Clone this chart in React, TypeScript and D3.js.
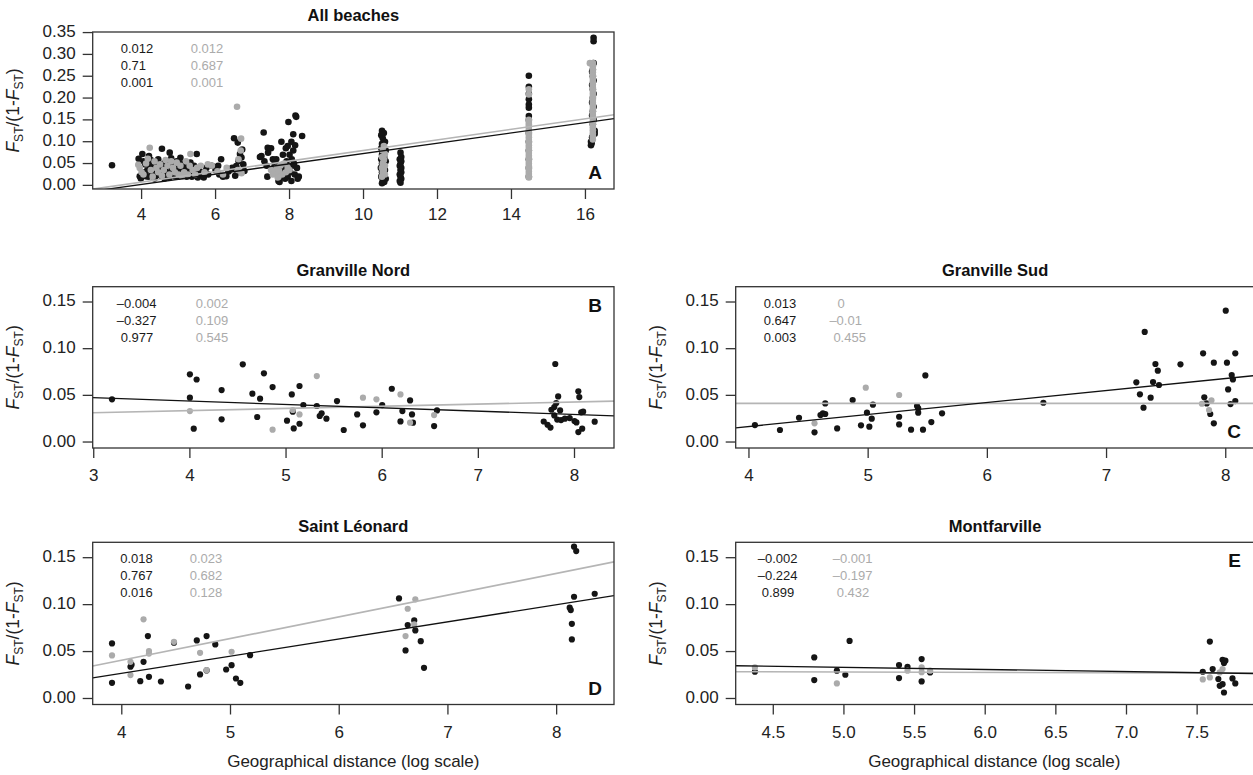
import React from "react";
import * as d3 from "d3";

type Pt = [number, number];

const panelTitles = ["All beaches", "Granville Nord", "Granville Sud", "Saint Léonard", "Montfarville"];
const panelLetters = ["A", "B", "C", "D", "E"];
const xAxisTitle = "Geographical distance (log scale)";

// ---------- Panel A : All beaches ----------
const aBlack: Pt[] = [
  [3.2, 0.046],
  [3.92, 0.061], [4.02, 0.072], [4.2, 0.067], [3.95, 0.021], [4.11, 0.021], [4.31, 0.025], [4.55, 0.084], [4.4, 0.044],
  [4.45, 0.06], [4.48, 0.033], [4.52, 0.022], [4.62, 0.016], [4.76, 0.075], [4.8, 0.062], [4.85, 0.05], [4.9, 0.021],
  [4.95, 0.055], [5.0, 0.04], [5.05, 0.063], [5.1, 0.035], [5.12, 0.026], [5.18, 0.05], [5.22, 0.02], [5.28, 0.043],
  [5.3, 0.03], [5.36, 0.02], [5.42, 0.045], [5.49, 0.072], [5.52, 0.018], [5.6, 0.025], [5.68, 0.018], [5.75, 0.04],
  [4.05, 0.055], [4.1, 0.048], [4.15, 0.034], [4.25, 0.058], [4.3, 0.04], [4.35, 0.016], [4.6, 0.05], [4.65, 0.04],
  [4.7, 0.028], [4.72, 0.055], [4.82, 0.035], [4.88, 0.03], [4.92, 0.045], [5.02, 0.02], [5.08, 0.05], [5.15, 0.04],
  [5.25, 0.035], [5.35, 0.04], [5.45, 0.03], [5.55, 0.035], [5.62, 0.03], [3.98, 0.016], [4.08, 0.03], [4.18, 0.02],
  [4.28, 0.03], [4.38, 0.022], [4.58, 0.03], [4.68, 0.02], [4.78, 0.045], [4.98, 0.032], [5.32, 0.052], [5.4, 0.024],
  [4.22, 0.045], [4.5, 0.038], [4.75, 0.018], [5.2, 0.028], [5.5, 0.022],
  [5.8, 0.025], [5.9, 0.045], [6.0, 0.035], [6.07, 0.045], [6.1, 0.025], [6.15, 0.06], [6.2, 0.02], [6.29, 0.021],
  [6.35, 0.032], [6.45, 0.04], [6.5, 0.108], [6.53, 0.022], [6.56, 0.044], [6.6, 0.098], [6.62, 0.056], [6.66, 0.072],
  [6.7, 0.064], [6.72, 0.082], [6.75, 0.048], [6.78, 0.033], [6.6, 0.03],
  [7.2, 0.065], [7.24, 0.067], [7.3, 0.121], [7.32, 0.055], [7.38, 0.045], [7.41, 0.086], [7.42, 0.075], [7.5, 0.085],
  [7.55, 0.06], [7.58, 0.04], [7.62, 0.03], [7.64, 0.06], [7.66, 0.025], [7.7, 0.01], [7.73, 0.008], [7.75, 0.02],
  [7.78, 0.1], [7.8, 0.045], [7.82, 0.07], [7.85, 0.035], [7.88, 0.015], [7.9, 0.085], [7.92, 0.055], [7.95, 0.09],
  [7.97, 0.145], [8.0, 0.07], [8.02, 0.03], [8.05, 0.1], [8.06, 0.06], [8.08, 0.045], [8.1, 0.117], [8.1, 0.08],
  [8.12, 0.05], [8.14, 0.025], [8.15, 0.092], [8.16, 0.16], [8.18, 0.157], [8.2, 0.04], [8.22, 0.015], [8.25, 0.02],
  [8.34, 0.113], [7.6, 0.05], [7.95, 0.02], [8.05, 0.01], [7.4, 0.02],
  [10.5, 0.125], [10.55, 0.12], [10.48, 0.115], [10.52, 0.108], [10.58, 0.1], [10.5, 0.095], [10.55, 0.09], [10.48, 0.085],
  [10.6, 0.08], [10.52, 0.075], [10.5, 0.07], [10.56, 0.065], [10.48, 0.06], [10.6, 0.055], [10.5, 0.05], [10.55, 0.045],
  [10.47, 0.04], [10.58, 0.035], [10.5, 0.03], [10.55, 0.025], [10.48, 0.02], [10.6, 0.015], [10.52, 0.01], [10.56, 0.008],
  [10.5, 0.005],
  [11.0, 0.075], [11.02, 0.065], [10.98, 0.06], [11.02, 0.055], [11.0, 0.05], [10.98, 0.045], [11.02, 0.04], [11.0, 0.035],
  [11.02, 0.03], [10.98, 0.025], [11.0, 0.02], [11.02, 0.015], [10.98, 0.01], [11.0, 0.006],
  [14.47, 0.251], [14.47, 0.226], [14.47, 0.21], [14.47, 0.197], [14.47, 0.185], [14.47, 0.178], [14.47, 0.159],
  [14.47, 0.15], [14.47, 0.12], [14.47, 0.1], [14.47, 0.08], [14.47, 0.06], [14.47, 0.04], [14.47, 0.02],
  [16.22, 0.338], [16.22, 0.33], [16.22, 0.28], [16.2, 0.265], [16.18, 0.26], [16.2, 0.25], [16.22, 0.24], [16.18, 0.23],
  [16.2, 0.22], [16.22, 0.21], [16.2, 0.2], [16.18, 0.19], [16.22, 0.18], [16.2, 0.17], [16.18, 0.16], [16.22, 0.15],
  [16.2, 0.14], [16.25, 0.125], [16.25, 0.118], [16.18, 0.11], [16.15, 0.1], [16.15, 0.092], [16.17, 0.097],
];
const aGray: Pt[] = [
  [3.91, 0.047], [3.95, 0.04], [4.0, 0.03], [4.05, 0.025], [4.17, 0.061], [4.22, 0.086], [4.3, 0.02], [4.35, 0.055],
  [4.4, 0.04], [4.45, 0.03], [4.5, 0.048], [4.6, 0.035], [4.65, 0.058], [4.7, 0.045], [4.75, 0.025], [4.85, 0.04],
  [4.9, 0.03], [4.95, 0.052], [5.0, 0.025], [5.05, 0.045], [5.1, 0.02], [5.15, 0.03], [5.2, 0.055], [5.25, 0.025],
  [5.32, 0.072], [5.38, 0.035], [5.45, 0.025], [5.5, 0.04], [5.6, 0.045], [5.7, 0.03], [5.79, 0.048], [5.9, 0.045],
  [6.05, 0.032], [6.2, 0.025], [6.3, 0.04], [4.12, 0.05], [4.25, 0.035], [4.55, 0.022], [4.8, 0.055], [5.3, 0.045],
  [6.58, 0.18], [6.69, 0.107], [6.68, 0.08], [6.62, 0.06], [6.6, 0.035], [6.7, 0.028],
  [7.5, 0.035], [7.55, 0.025], [7.6, 0.03], [7.65, 0.04], [7.7, 0.02], [7.72, 0.032], [7.75, 0.045], [7.8, 0.025],
  [7.85, 0.05], [7.9, 0.03], [7.95, 0.04], [8.0, 0.035], [7.68, 0.018],
  [10.55, 0.09], [10.52, 0.08], [10.58, 0.072], [10.5, 0.065], [10.55, 0.058], [10.52, 0.05], [10.58, 0.045],
  [10.5, 0.04], [10.55, 0.035], [10.52, 0.03], [10.58, 0.025], [10.5, 0.02], [10.55, 0.06],
  [14.47, 0.22], [14.47, 0.208], [14.47, 0.15], [14.47, 0.145], [14.47, 0.14], [14.47, 0.134], [14.47, 0.128],
  [14.47, 0.122], [14.47, 0.116], [14.47, 0.11], [14.47, 0.104], [14.47, 0.098], [14.47, 0.092], [14.47, 0.086],
  [14.47, 0.08], [14.47, 0.074], [14.47, 0.068], [14.47, 0.062], [14.47, 0.056], [14.47, 0.05], [14.47, 0.044],
  [14.47, 0.038], [14.47, 0.032], [14.47, 0.026], [14.47, 0.02], [14.47, 0.018],
  [16.12, 0.28], [16.2, 0.28], [16.2, 0.273], [16.2, 0.266], [16.2, 0.259], [16.2, 0.252], [16.2, 0.245], [16.2, 0.238],
  [16.2, 0.231], [16.2, 0.224], [16.2, 0.217], [16.2, 0.21], [16.2, 0.203], [16.2, 0.196], [16.2, 0.189], [16.2, 0.182],
  [16.2, 0.175], [16.2, 0.168], [16.2, 0.161], [16.2, 0.154], [16.2, 0.147], [16.2, 0.14], [16.2, 0.133], [16.2, 0.126],
  [16.2, 0.119], [16.2, 0.112], [16.2, 0.105],
];

// ---------- Panel B : Granville Nord ----------
const bBlack: Pt[] = [
  [3.19, 0.0457], [4.0, 0.0725], [4.07, 0.067], [4.0, 0.0475], [4.04, 0.0143], [4.33, 0.0557], [4.33, 0.0243],
  [4.55, 0.0832], [4.65, 0.0518], [4.7, 0.0268], [4.73, 0.0464], [4.77, 0.0736], [4.86, 0.0589], [5.01, 0.0229],
  [5.06, 0.051], [5.07, 0.0325], [5.08, 0.0146], [5.14, 0.06], [5.14, 0.0196], [5.18, 0.0396], [5.32, 0.0386],
  [5.35, 0.0279], [5.37, 0.0307], [5.42, 0.025], [5.53, 0.0439], [5.6, 0.0129], [5.74, 0.0296], [5.8, 0.0179],
  [5.94, 0.0318], [6.0, 0.0396], [6.1, 0.0571], [6.19, 0.0221], [6.21, 0.0332], [6.29, 0.0446], [6.31, 0.0296],
  [6.32, 0.0207], [6.54, 0.0171], [6.57, 0.0339],
  [7.8, 0.0836], [7.68, 0.022], [7.72, 0.0185], [7.75, 0.0155], [7.76, 0.0346], [7.79, 0.0375], [7.81, 0.0417],
  [7.83, 0.0489], [7.85, 0.0339], [7.82, 0.024], [7.86, 0.0235], [7.79, 0.0285], [7.95, 0.0257], [8.0, 0.0225],
  [8.02, 0.021], [8.04, 0.0543], [8.05, 0.0482], [8.04, 0.0107], [8.07, 0.0318], [8.09, 0.0325], [8.08, 0.0143],
  [8.21, 0.0218], [7.9, 0.025],
];
const bGray: Pt[] = [
  [4.0, 0.0332], [4.86, 0.0132], [5.07, 0.0343], [5.14, 0.0296], [5.32, 0.0707], [5.8, 0.0475], [5.94, 0.0457],
  [6.19, 0.051], [6.29, 0.0207], [6.54, 0.0289],
];

// ---------- Panel C : Granville Sud ----------
const cBlack: Pt[] = [
  [4.05, 0.0182], [4.26, 0.0129], [4.42, 0.026], [4.55, 0.0104], [4.64, 0.0414], [4.6, 0.0289], [4.62, 0.0307],
  [4.64, 0.03], [4.74, 0.0146], [4.87, 0.045], [4.94, 0.0179], [4.99, 0.0314], [5.01, 0.0164], [5.03, 0.025],
  [5.04, 0.04], [5.26, 0.0271], [5.26, 0.0189], [5.36, 0.0132], [5.41, 0.0386], [5.42, 0.0361], [5.42, 0.0314],
  [5.46, 0.0132], [5.48, 0.0714], [5.53, 0.0214], [5.62, 0.0307], [6.47, 0.0421],
  [7.25, 0.064], [7.28, 0.0511], [7.31, 0.0368], [7.32, 0.1179], [7.37, 0.0475], [7.39, 0.0643], [7.41, 0.0836],
  [7.43, 0.0764], [7.44, 0.0611], [7.62, 0.0832], [7.81, 0.095], [7.82, 0.0479], [7.9, 0.085], [7.84, 0.0414],
  [7.87, 0.03], [7.9, 0.02], [8.0, 0.1407], [8.01, 0.085], [8.02, 0.0564], [8.05, 0.0718], [8.06, 0.0671],
  [8.08, 0.095], [8.04, 0.0407], [8.08, 0.0439],
];
const cGray: Pt[] = [
  [4.55, 0.02], [4.98, 0.0582], [5.26, 0.0504], [7.8, 0.041], [7.88, 0.0446], [7.86, 0.0343],
];

// ---------- Panel D : Saint Léonard ----------
const dBlack: Pt[] = [
  [3.91, 0.0587], [3.91, 0.0167], [4.08, 0.0338], [4.09, 0.036], [4.17, 0.0185], [4.2, 0.0391], [4.24, 0.0665],
  [4.25, 0.0231], [4.36, 0.0181], [4.48, 0.0594], [4.61, 0.0128], [4.69, 0.0619], [4.72, 0.0256], [4.78, 0.0665],
  [4.78, 0.0299], [4.86, 0.0576], [4.96, 0.0309], [5.01, 0.0355], [5.05, 0.0213], [5.09, 0.0167], [5.18, 0.0462],
  [6.55, 0.1066], [6.61, 0.0512], [6.63, 0.0782], [6.69, 0.0832], [6.7, 0.0725], [6.75, 0.0611], [6.78, 0.0327],
  [8.12, 0.0967], [8.13, 0.0942], [8.14, 0.0796], [8.14, 0.0629], [8.16, 0.1617], [8.18, 0.1571], [8.16, 0.1084],
  [8.35, 0.1116],
];
const dGray: Pt[] = [
  [3.91, 0.0459], [4.08, 0.0391], [4.08, 0.0249], [4.2, 0.0843], [4.25, 0.0505], [4.25, 0.0478], [4.48, 0.0604],
  [4.72, 0.0487], [4.78, 0.0302], [5.01, 0.0498], [6.61, 0.0665], [6.63, 0.0956], [6.7, 0.1056], [6.69, 0.0789],
];

// ---------- Panel E : Montfarville ----------
const eBlack: Pt[] = [
  [4.37, 0.0285], [4.79, 0.0438], [4.79, 0.0196], [4.95, 0.0296], [5.01, 0.0253], [5.04, 0.0613], [5.39, 0.0356],
  [5.39, 0.0217], [5.45, 0.0338], [5.55, 0.042], [5.55, 0.0182], [5.61, 0.0278],
  [7.54, 0.0285], [7.59, 0.0606], [7.61, 0.0313], [7.65, 0.0207], [7.66, 0.0135], [7.68, 0.0413], [7.68, 0.0153],
  [7.69, 0.0064], [7.7, 0.0403], [7.69, 0.0378], [7.75, 0.0214], [7.77, 0.016],
];
const eGray: Pt[] = [
  [4.37, 0.0331], [4.95, 0.016], [5.45, 0.0296], [5.55, 0.0331], [5.55, 0.028], [5.61, 0.0296], [7.54, 0.0203],
  [7.59, 0.0224], [7.66, 0.0278], [7.68, 0.0313],
];

const blackPoints = [aBlack, bBlack, cBlack, dBlack, eBlack];
const grayPoints = [aGray, bGray, cGray, dGray, eGray];

// regression lines: [intercept, slope]
const fitBlack: Pt[] = [[-0.045, 0.0118], [0.0583, -0.0036], [-0.0348, 0.01286], [-0.0461, 0.01826], [0.0444, -0.00225]];
const fitGray: Pt[] = [[-0.041, 0.0121], [0.0245, 0.0023], [0.0414, 0], [-0.0518, 0.02314], [0.0302, -0.0004]];

const statsBlack = [
  ["0.012", "0.71", "0.001"],
  ["\u20130.004", "\u20130.327", "0.977"],
  ["0.013", "0.647", "0.003"],
  ["0.018", "0.767", "0.016"],
  ["\u20130.002", "\u20130.224", "0.899"],
];
const statsGray = [
  ["0.012", "0.687", "0.001"],
  ["0.002", "0.109", "0.545"],
  ["0", "\u20130.01", "0.455"],
  ["0.023", "0.682", "0.128"],
  ["\u20130.001", "\u20130.197", "0.432"],
];

const xTicks = [
  [4, 6, 8, 10, 12, 14, 16],
  [3, 4, 5, 6, 7, 8],
  [4, 5, 6, 7, 8],
  [4, 5, 6, 7, 8],
  [4.5, 5.0, 5.5, 6.0, 6.5, 7.0, 7.5],
];
const yTicks = [
  [0, 0.05, 0.1, 0.15, 0.2, 0.25, 0.3, 0.35],
  [0, 0.05, 0.1, 0.15],
  [0, 0.05, 0.1, 0.15],
  [0, 0.05, 0.1, 0.15],
  [0, 0.05, 0.1, 0.15],
];
const yLimits: (Pt | null)[] = [null, [0, 0.16], [0, 0.16], [0, 0.16], [0, 0.16]];

// ---------- layout ----------
const W = 1253;
const H = 775;
const colX: Pt[] = [[92.7, 614], [735.7, 1254.5]];
const rowY: Pt[] = [[32, 189], [286.7, 448], [542.3, 704.5]];
const panelCell = [[0, 0], [0, 1], [1, 1], [0, 2], [1, 2]];
const letterTop = [false, true, false, false, true];
const blackColOff = [28, 28, 28, 27.5, 26];
const grayColOff = [98, 103, 97.7, 97, 101];

const FONT = "'Liberation Sans', Arial, Helvetica, sans-serif";
const BLACK = "#151515";
const GRAY = "#ababab";
const AXIS = "#333";

function expand(ext: Pt): Pt {
  const r = ext[1] - ext[0];
  return [ext[0] - 0.04 * r, ext[1] + 0.04 * r];
}

function YLabel({ x, y }: { x: number; y: number }) {
  return (
    <text transform={`translate(${x},${y}) rotate(-90)`} textAnchor="middle" fontSize={17.5} fill="#222" fontFamily={FONT}>
      <tspan fontStyle="italic">F</tspan>
      <tspan fontSize={12} dy={4}>ST</tspan>
      <tspan dy={-4}>/(1-</tspan>
      <tspan fontStyle="italic">F</tspan>
      <tspan fontSize={12} dy={4}>ST</tspan>
      <tspan dy={-4}>)</tspan>
    </text>
  );
}

function Panel({ i }: { i: number }) {
  const [ci, ri] = panelCell[i];
  const [x0, x1] = colX[ci];
  const [y0, y1] = rowY[ri];
  const all = blackPoints[i].concat(grayPoints[i]);
  const xExt = d3.extent(all, (d) => d[0]) as Pt;
  const yExt = (yLimits[i] ?? (d3.extent(all, (d) => d[1]) as Pt)) as Pt;
  const x = d3.scaleLinear().domain(expand(xExt)).range([x0, x1]);
  const y = d3.scaleLinear().domain(expand(yExt)).range([y1, y0]);
  const xFmt = i === 4 ? d3.format(".1f") : d3.format("d");
  const yFmt = d3.format(".2f");
  const clipId = `clip${i}`;
  const [xd0, xd1] = x.domain();
  const line = d3.line<Pt>().x((d) => x(d[0])).y((d) => y(d[1]));
  const fitPts = (f: Pt): Pt[] => [[xd0, f[0] + f[1] * xd0], [xd1, f[0] + f[1] * xd1]];
  const r = i === 0 ? 3.3 : 3.1;
  const statX = (base: number, s: string) => {
    if (s.startsWith("\u2013")) return base - 4;
    if (s.length === 1) return base + 4;
    return base;
  };
  return (
    <g>
      <defs>
        <clipPath id={clipId}>
          <rect x={x0} y={y0} width={x1 - x0} height={y1 - y0} />
        </clipPath>
      </defs>
      <text x={(x0 + x1) / 2} y={y0 - 15} textAnchor="middle" dominantBaseline="middle" fontWeight="bold" fontSize={16.5} fill="#111" fontFamily={FONT}>
        {panelTitles[i]}
      </text>
      <g clipPath={`url(#${clipId})`}>
        {blackPoints[i].map((d, k) => (
          <circle key={`b${k}`} cx={x(d[0])} cy={y(d[1])} r={r} fill={BLACK} />
        ))}
        {grayPoints[i].map((d, k) => (
          <circle key={`g${k}`} cx={x(d[0])} cy={y(d[1])} r={r} fill={GRAY} />
        ))}
        <path d={line(fitGray[i] ? fitPts(fitGray[i]) : []) || ""} stroke="#b5b5b5" strokeWidth={1.6} fill="none" />
        <path d={line(fitPts(fitBlack[i])) || ""} stroke="#111" strokeWidth={1.3} fill="none" />
      </g>
      <rect x={x0} y={y0} width={x1 - x0} height={y1 - y0} fill="none" stroke={AXIS} strokeWidth={1.3} />
      {xTicks[i].map((t) => (
        <g key={`xt${t}`}>
          <line x1={x(t)} x2={x(t)} y1={y1} y2={y1 + 10} stroke={AXIS} strokeWidth={1.3} />
          <text x={x(t)} y={y1 + (i === 0 ? 27 : 29)} textAnchor="middle" dominantBaseline="middle" fontSize={17} fill="#222" fontFamily={FONT}>
            {xFmt(t)}
          </text>
        </g>
      ))}
      {yTicks[i].map((t) => (
        <g key={`yt${t}`}>
          <line x1={x0 - 10} x2={x0} y1={y(t)} y2={y(t)} stroke={AXIS} strokeWidth={1.3} />
          <text x={x0 - 17} y={y(t)} textAnchor="end" dominantBaseline="middle" fontSize={17} fill="#222" fontFamily={FONT}>
            {yFmt(t)}
          </text>
        </g>
      ))}
      <YLabel x={x0 - 74} y={(y0 + y1) / 2} />
      {statsBlack[i].map((s, k) => (
        <text key={`sb${k}`} x={statX(x0 + blackColOff[i], s)} y={y0 + 17.5 + 17 * k} dominantBaseline="middle" fontSize={13} fill="#1a1a1a" fontFamily={FONT}>
          {s}
        </text>
      ))}
      {statsGray[i].map((s, k) => (
        <text key={`sg${k}`} x={statX(x0 + grayColOff[i], s)} y={y0 + 17.5 + 17 * k} dominantBaseline="middle" fontSize={13} fill={GRAY} fontFamily={FONT}>
          {s}
        </text>
      ))}
      <text x={Math.min(x1, W) - 12} y={letterTop[i] ? y0 + 25 : y1 - 10} textAnchor="end" fontWeight="bold" fontSize={19} fill="#111" fontFamily={FONT}>
        {panelLetters[i]}
      </text>
    </g>
  );
}

export default function App() {
  return (
    <svg width={W} height={H} viewBox={`0 0 ${W} ${H}`} style={{ position: "absolute", left: 0, top: 0, background: "#fff" }}>
      <rect x={0} y={0} width={W} height={H} fill="#fff" />
      {panelTitles.map((_, i) => (
        <Panel key={i} i={i} />
      ))}
      {[0, 1].map((c) => (
        <text key={c} x={(colX[c][0] + Math.min(colX[c][1], W)) / 2} y={763} textAnchor="middle" dominantBaseline="middle" fontSize={17} fill="#222" fontFamily={FONT}>
          {xAxisTitle}
        </text>
      ))}
    </svg>
  );
}
